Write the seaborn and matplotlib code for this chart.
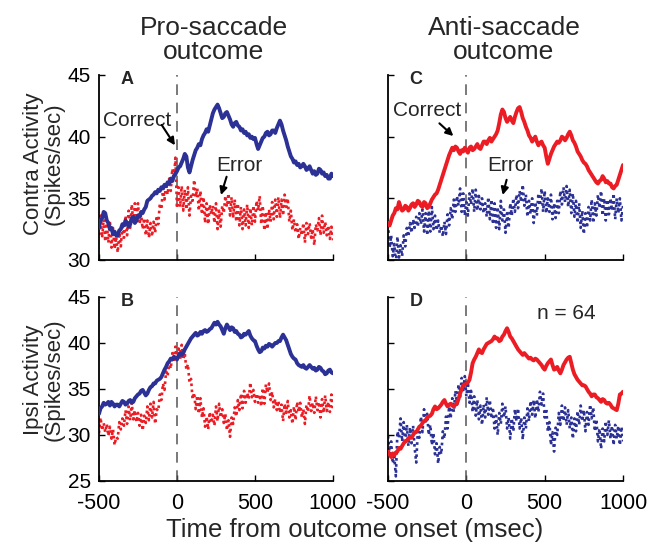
import numpy as np
import matplotlib
matplotlib.use("Agg")
import matplotlib.pyplot as plt
import seaborn as sns

# sample times (msec from outcome onset), one value every 10 ms
t = np.arange(-500, 1001, 10)

# --- A: contra, pro-saccade ---
pro_contra_correct = [
    32.6, 33.2, 33.4, 33.9, 33.8, 33.2, 33.0, 32.5, 32.6, 32.1,
    32.3, 32.0, 32.0, 32.4, 32.5, 32.9, 32.8, 33.2, 33.0, 32.7,
    32.9, 33.4, 33.5, 33.0, 33.2, 33.6, 33.5, 33.9, 33.8, 34.1,
    34.3, 34.8, 34.9, 35.0, 35.2, 35.3, 35.5, 35.4, 35.7, 35.6,
    35.9, 35.8, 36.1, 36.0, 36.3, 36.2, 36.6, 36.4, 36.8, 37.0,
    37.2, 37.5, 37.6, 37.9, 38.2, 38.6, 38.4, 37.5, 37.1, 37.6,
    38.1, 38.5, 38.9, 39.1, 39.4, 39.3, 39.8, 40.1, 40.3, 40.6,
    40.4, 40.9, 41.4, 41.9, 42.2, 42.4, 42.6, 42.3, 41.9, 41.5,
    41.6, 41.9, 42.0, 41.7, 41.4, 41.0, 40.8, 41.1, 41.2, 40.9,
    40.8, 40.5, 40.6, 40.3, 40.4, 40.1, 40.2, 39.9, 40.0, 39.8,
    39.9, 39.4, 39.0, 39.3, 39.6, 39.9, 40.0, 40.3, 40.4, 40.1,
    40.2, 40.5, 40.5, 40.3, 40.7, 41.0, 41.3, 41.0, 40.5, 40.1,
    39.7, 39.2, 38.8, 38.4, 38.2, 37.9, 38.0, 37.7, 37.8, 37.5,
    37.6, 37.8, 37.6, 37.3, 37.4, 37.6, 37.3, 37.0, 37.2, 36.9,
    37.0, 37.4, 37.3, 37.0, 37.1, 36.8, 36.9, 36.6, 36.6, 37.0,
    36.8]
pro_contra_error = [
    32.0, 33.6, 31.8, 33.3, 31.5, 33.0, 31.4, 33.2, 31.0, 32.6,
    30.9, 31.9, 30.6, 32.2, 31.1, 32.7, 31.8, 33.6, 32.0, 34.0,
    32.6, 34.5, 33.0, 34.6, 33.1, 34.6, 32.9, 33.7, 32.5, 33.4,
    32.0, 33.2, 31.8, 33.0, 31.9, 33.1, 32.2, 33.6, 32.9, 34.6,
    34.1, 35.8, 34.9, 36.2, 35.3, 36.6, 35.6, 37.4, 36.5, 38.3,
    34.2, 35.9, 34.3, 36.0, 34.0, 35.7, 34.1, 35.9, 33.6, 35.2,
    34.8, 36.5, 35.1, 35.8, 34.0, 35.6, 33.7, 35.1, 33.0, 34.6,
    32.9, 34.5, 33.7, 34.4, 33.0, 34.6, 32.5, 34.0, 32.7, 34.4,
    33.8, 35.2, 34.3, 35.4, 33.6, 35.1, 33.4, 34.9, 33.1, 34.6,
    32.8, 34.3, 32.5, 34.1, 32.8, 34.5, 32.6, 34.2, 32.8, 34.4,
    33.1, 34.8, 34.0, 35.2, 32.9, 34.4, 32.4, 33.9, 32.5, 34.1,
    33.1, 34.7, 33.3, 34.9, 33.5, 35.1, 33.4, 34.9, 33.6, 35.3,
    34.3, 35.0, 33.1, 34.0, 32.4, 33.3, 32.2, 32.9, 31.7, 32.6,
    32.0, 33.0, 31.4, 33.0, 32.1, 33.0, 31.8, 32.5, 31.2, 32.9,
    32.4, 33.4, 32.0, 33.6, 32.2, 33.1, 32.0, 32.8, 31.7, 32.7,
    31.6]

# --- B: ipsi, pro-saccade ---
pro_ipsi_correct = [
    32.3, 32.9, 33.1, 33.5, 33.3, 33.4, 33.6, 33.2, 33.6, 33.4,
    33.1, 33.3, 33.3, 33.1, 33.4, 33.7, 33.6, 33.3, 33.4, 33.7,
    33.8, 33.5, 33.6, 34.0, 34.2, 34.4, 34.5, 34.8, 34.9, 34.6,
    34.3, 34.5, 34.9, 35.2, 35.3, 35.6, 35.6, 35.9, 36.0, 36.1,
    36.3, 36.7, 37.1, 37.4, 37.8, 38.0, 38.3, 38.2, 38.5, 38.4,
    38.2, 38.6, 38.9, 38.7, 38.9, 39.3, 39.6, 39.9, 40.2, 40.5,
    40.7, 40.9, 41.1, 40.8, 40.9, 41.2, 41.0, 41.3, 41.4, 41.2,
    41.3, 41.5, 41.6, 41.9, 42.2, 42.0, 42.3, 42.0, 41.8, 41.4,
    41.0, 41.6, 42.0, 41.7, 41.4, 41.7, 41.6, 41.2, 41.3, 41.0,
    40.9, 40.6, 40.7, 41.0, 40.9, 41.1, 41.3, 40.8, 40.5, 40.3,
    40.2, 39.7, 39.3, 39.0, 39.1, 39.5, 39.4, 39.7, 39.6, 39.9,
    39.8, 39.6, 39.8, 40.0, 40.0, 40.2, 40.2, 40.6, 40.9, 40.6,
    40.3, 39.8, 39.3, 38.8, 38.5, 38.3, 38.2, 37.8, 37.6, 37.5,
    37.4, 37.6, 37.3, 37.2, 37.4, 37.6, 37.4, 37.2, 37.3, 37.0,
    37.1, 37.4, 37.3, 37.0, 36.9, 36.6, 36.7, 37.0, 37.1, 36.8,
    36.7]
pro_ipsi_error = [
    30.2, 31.9, 30.5, 31.3, 30.3, 31.2, 29.9, 30.9, 29.6, 30.6,
    28.9, 29.8, 29.6, 31.4, 30.6, 31.8, 31.0, 32.7, 31.2, 33.1,
    31.6, 33.5, 31.7, 32.7, 31.4, 32.4, 31.0, 32.2, 30.5, 32.1,
    31.3, 33.1, 31.6, 33.4, 31.9, 33.6, 31.2, 32.8, 32.6, 34.4,
    33.8, 35.6, 34.9, 36.9, 36.4, 38.0, 37.2, 38.9, 37.9, 39.6,
    38.6, 39.4, 38.2, 39.8, 38.2, 38.9, 37.1, 37.7, 35.7, 36.1,
    33.9, 34.6, 32.8, 34.3, 32.3, 34.0, 31.9, 32.9, 30.9, 32.0,
    30.6, 32.5, 31.3, 32.2, 31.0, 33.1, 31.5, 33.4, 31.9, 32.8,
    31.3, 32.3, 30.5, 31.6, 29.8, 31.9, 31.2, 33.0, 32.0, 33.8,
    32.7, 34.5, 32.9, 34.8, 33.5, 34.6, 33.9, 35.7, 34.1, 34.9,
    33.6, 34.5, 33.5, 34.4, 33.1, 35.1, 33.4, 35.5, 34.6, 35.6,
    33.8, 34.7, 33.0, 33.9, 32.7, 33.7, 32.4, 33.3, 31.5, 33.4,
    32.4, 33.7, 31.9, 32.7, 31.2, 33.1, 31.6, 33.6, 32.5, 33.5,
    31.9, 32.8, 31.2, 33.3, 32.5, 34.3, 32.6, 33.5, 32.4, 34.2,
    32.7, 33.6, 31.9, 33.9, 32.4, 34.3, 32.6, 33.6, 32.5, 34.4,
    32.8]

# --- C: contra, anti-saccade ---
anti_contra_correct = [
    33.0, 32.8, 33.2, 33.6, 33.8, 34.2, 34.1, 34.7, 34.3, 34.0,
    34.1, 34.4, 34.3, 34.0, 34.2, 34.5, 34.6, 34.3, 34.5, 34.8,
    34.7, 34.4, 34.3, 34.7, 34.6, 34.2, 34.3, 34.6, 34.9, 35.1,
    35.3, 35.4, 35.7, 36.1, 36.5, 36.9, 37.3, 37.7, 38.1, 38.5,
    38.8, 39.1, 38.9, 39.2, 39.1, 38.8, 38.6, 38.9, 38.8, 39.1,
    38.9, 38.7, 39.1, 39.2, 38.9, 39.0, 39.2, 39.4, 39.1, 39.0,
    39.3, 39.6, 39.6, 39.4, 39.7, 39.9, 39.6, 39.8, 40.0, 40.2,
    40.5, 41.1, 41.8, 42.2, 42.0, 41.5, 41.2, 41.4, 41.6, 41.3,
    41.1, 41.6, 42.0, 42.3, 42.4, 42.0, 41.5, 41.2, 40.8, 40.5,
    40.1, 39.9, 39.6, 39.8, 40.0, 39.6, 39.3, 39.5, 39.6, 39.3,
    39.1, 38.4, 37.8, 38.2, 38.6, 38.9, 39.2, 39.4, 39.6, 39.5,
    39.7, 40.0, 39.9, 39.7, 39.9, 40.2, 40.4, 40.1, 39.7, 39.5,
    39.2, 38.8, 38.6, 38.4, 38.1, 37.9, 37.8, 37.6, 37.3, 37.1,
    36.9, 36.7, 36.5, 36.3, 36.2, 36.4, 36.5, 36.8, 36.6, 36.3,
    36.4, 36.2, 36.2, 35.9, 35.8, 36.0, 36.1, 36.5, 36.9, 37.3,
    37.7]
anti_contra_error = [
    32.9, 31.0, 32.0, 30.3, 31.3, 29.6, 31.9, 30.2, 31.2, 30.3,
    32.0, 31.1, 32.6, 31.9, 33.0, 32.2, 33.3, 32.6, 33.5, 32.7,
    33.8, 32.9, 34.1, 32.3, 33.8, 32.0, 34.0, 32.3, 34.3, 32.5,
    33.6, 32.4, 33.2, 32.2, 32.8, 31.9, 33.1, 32.1, 33.7, 32.8,
    34.2, 33.3, 34.9, 33.9, 35.2, 34.4, 35.8, 33.9, 35.4, 33.6,
    34.7, 33.6, 35.4, 34.5, 35.8, 33.9, 35.7, 34.0, 35.2, 34.1,
    35.0, 33.8, 34.6, 33.5, 35.1, 33.3, 34.9, 32.9, 34.6, 32.6,
    34.3, 32.5, 34.8, 33.2, 34.1, 32.2, 33.8, 32.6, 34.6, 33.6,
    35.0, 33.9, 35.3, 34.2, 35.6, 34.7, 36.1, 34.4, 35.3, 33.5,
    34.8, 33.7, 35.0, 33.0, 34.7, 33.6, 35.4, 34.4, 35.8, 33.9,
    35.6, 33.8, 35.0, 33.9, 35.3, 33.3, 34.6, 33.4, 34.8, 33.8,
    35.6, 34.5, 35.9, 34.7, 36.0, 34.3, 35.7, 33.8, 35.4, 33.5,
    34.8, 33.0, 34.6, 32.6, 34.0, 32.1, 33.8, 32.6, 34.3, 33.2,
    34.9, 33.0, 34.6, 33.6, 35.3, 34.2, 35.6, 33.6, 35.0, 33.2,
    34.9, 33.7, 35.0, 34.0, 35.4, 33.3, 35.0, 33.8, 35.0, 33.2,
    34.4]

# --- D: ipsi, anti-saccade ---
anti_ipsi_correct = [
    28.2, 27.9, 27.6, 28.0, 27.8, 28.1, 28.2, 28.6, 28.5, 28.8,
    29.1, 29.3, 29.4, 29.6, 29.8, 29.7, 30.0, 30.3, 30.3, 30.6,
    30.9, 31.0, 31.3, 31.5, 31.6, 31.9, 32.0, 32.1, 32.3, 32.8,
    33.1, 32.8, 32.9, 33.1, 33.3, 33.6, 33.8, 33.4, 33.1, 33.3,
    33.4, 33.2, 33.1, 33.3, 33.4, 33.9, 34.5, 35.0, 35.4, 35.5,
    35.6, 35.7, 36.0, 36.8, 37.8, 38.2, 38.5, 38.9, 39.3, 39.0,
    38.9, 39.3, 39.6, 39.9, 40.0, 40.1, 40.2, 40.4, 40.7, 40.5,
    40.5, 40.2, 40.3, 40.7, 40.9, 41.3, 41.6, 41.2, 40.7, 40.5,
    40.2, 39.9, 39.6, 39.3, 39.1, 38.9, 38.7, 38.9, 38.7, 38.5,
    38.3, 38.4, 38.2, 38.1, 38.3, 38.2, 38.0, 37.8, 37.6, 37.3,
    37.1, 37.5, 37.8, 38.0, 38.2, 37.6, 37.1, 37.2, 37.4, 37.0,
    36.7, 37.1, 37.6, 37.9, 38.2, 38.4, 38.5, 37.8, 37.1, 36.6,
    36.3, 36.0, 35.8, 35.6, 35.4, 35.4, 35.3, 35.0, 34.7, 34.5,
    34.2, 34.4, 34.4, 34.1, 34.0, 33.8, 33.6, 33.9, 33.8, 33.5,
    33.4, 33.5, 33.3, 33.0, 32.9, 32.8, 32.7, 33.4, 34.4, 34.5,
    34.7]
anti_ipsi_error = [
    29.9, 27.9, 29.3, 26.9, 27.7, 25.5, 30.4, 29.7, 31.8, 29.3,
    31.4, 29.0, 31.1, 28.8, 30.8, 29.1, 31.0, 28.6, 27.0, 30.4,
    29.7, 32.0, 30.3, 32.8, 31.2, 32.3, 30.0, 31.1, 28.9, 30.2,
    27.9, 29.1, 26.9, 28.7, 27.9, 30.4, 29.6, 32.0, 30.7, 33.1,
    31.8, 34.0, 32.5, 34.8, 33.3, 35.5, 34.0, 36.2, 34.7, 36.4,
    34.2, 35.7, 33.5, 34.8, 32.5, 34.2, 32.1, 33.8, 31.7, 33.2,
    31.1, 33.3, 31.9, 34.1, 32.2, 33.8, 31.8, 33.0, 30.7, 32.1,
    30.0, 32.4, 31.2, 33.4, 31.9, 33.1, 30.7, 31.9, 29.6, 31.8,
    30.4, 32.8, 31.5, 32.9, 30.7, 31.9, 29.5, 31.9, 30.7, 32.9,
    31.5, 33.7, 32.2, 33.8, 31.8, 33.9, 32.5, 34.7, 33.3, 34.5,
    31.9, 32.9, 30.4, 31.4, 28.9, 30.3, 28.2, 30.8, 30.0, 32.4,
    31.1, 33.2, 31.5, 33.0, 31.1, 32.7, 30.7, 31.9, 29.6, 31.8,
    30.4, 32.6, 31.1, 33.2, 31.5, 32.7, 30.4, 32.5, 31.1, 33.3,
    31.8, 33.0, 30.4, 31.7, 29.3, 30.7, 28.5, 30.7, 29.3, 31.5,
    30.0, 31.6, 29.6, 31.0, 28.9, 31.1, 29.6, 31.0, 28.9, 30.9,
    29.3]

xticks = [-500, 0, 500, 1000]
BLUE = "#2b3195"
RED = "#ec1c24"

sns.set_style("ticks")
plt.rcParams["font.family"] = ["Liberation Sans", "DejaVu Sans"]
plt.rcParams["axes.unicode_minus"] = False

fig = plt.figure(figsize=(6.56, 5.43), dpi=100)
axA = fig.add_axes([0.1509, 0.5212, 0.3567, 0.3407])
axC = fig.add_axes([0.5915, 0.5212, 0.3582, 0.3407])
axB = fig.add_axes([0.1509, 0.1142, 0.3567, 0.3389])
axD = fig.add_axes([0.5915, 0.1142, 0.3582, 0.3389])

panels = [
    (axA, "A", pro_contra_correct, pro_contra_error, BLUE, RED, (30, 45), [30, 35, 40, 45]),
    (axC, "C", anti_contra_correct, anti_contra_error, RED, BLUE, (30, 45), [30, 35, 40, 45]),
    (axB, "B", pro_ipsi_correct, pro_ipsi_error, BLUE, RED, (25, 45), [25, 30, 35, 40, 45]),
    (axD, "D", anti_ipsi_correct, anti_ipsi_error, RED, BLUE, (25, 45), [25, 30, 35, 40, 45]),
]

for ax, lab, corr, err, c_corr, c_err, ylim, yt in panels:
    ax.axvline(0, color="#555555", lw=1.1, dashes=(7, 5), zorder=1)
    sns.lineplot(x=t, y=err, ax=ax, color=c_err, lw=1.9, dashes=False, zorder=2)
    ax.lines[-1].set_dashes((1, 1.3))
    sns.lineplot(x=t, y=corr, ax=ax, color=c_corr, lw=2.8, zorder=3)
    ax.set_xlim(-500, 1000)
    ax.set_ylim(*ylim)
    ax.set_xticks(xticks)
    ax.set_yticks(yt)
    ax.set_xlabel("")
    ax.set_ylabel("")
    sns.despine(ax=ax)
    for s in ("left", "bottom"):
        ax.spines[s].set_linewidth(1.3)
        ax.spines[s].set_color("black")
    ax.tick_params(direction="in", length=4, width=1, colors="black")
    ax.tick_params(axis="x", pad=9, labelsize=15.5)
    ax.tick_params(axis="y", pad=6, labelsize=15)
    ax.text(0.12, 0.975, lab, transform=ax.transAxes, fontsize=13, fontweight="bold",
            ha="center", va="center")

axA.tick_params(labelbottom=False)
axC.tick_params(labelbottom=False, labelleft=False)
axD.tick_params(labelleft=False)

# annotations
arrow = dict(arrowstyle="-|>", color="black", lw=1.5, mutation_scale=11, shrinkA=0, shrinkB=0)
axA.text(-256, 41.35, "Correct", fontsize=15, ha="center", va="center")
axA.annotate("", xy=(-13, 39.3), xytext=(-98, 40.95), arrowprops=arrow)
axA.text(399, 37.7, "Error", fontsize=15, ha="center", va="center")
axA.annotate("", xy=(282, 35.27), xytext=(318, 36.75), arrowprops=arrow)
axC.text(-249, 42.16, "Correct", fontsize=15, ha="center", va="center")
axC.annotate("", xy=(-83, 40.05), xytext=(-172, 41.08), arrowprops=arrow)
axC.text(283, 37.7, "Error", fontsize=15, ha="center", va="center")
axC.annotate("", xy=(232, 35.27), xytext=(257, 36.5), arrowprops=arrow)
axD.text(640, 43.2, "n = 64", fontsize=15, ha="center", va="center")

# titles and axis labels
fig.text(214 / 656, 1 - 40 / 543, "Pro-saccade\noutcome", fontsize=19, ha="center",
         va="center", linespacing=1.05)
fig.text(504 / 656, 1 - 40 / 543, "Anti-saccade\noutcome", fontsize=19, ha="center",
         va="center", linespacing=1.05)
fig.text(44 / 656, 1 - 164 / 543, "Contra Activity\n(Spikes/sec)", fontsize=16, rotation=90,
         ha="center", va="center", linespacing=1.0)
fig.text(44 / 656, 1 - 380 / 543, "Ipsi Activity\n(Spikes/sec)", fontsize=16, rotation=90,
         ha="center", va="center", linespacing=1.0)
fig.text(355 / 656, 1 - 530 / 543, "Time from outcome onset (msec)", fontsize=18.5,
         ha="center", va="center")

fig.savefig("out.png", dpi=100)
